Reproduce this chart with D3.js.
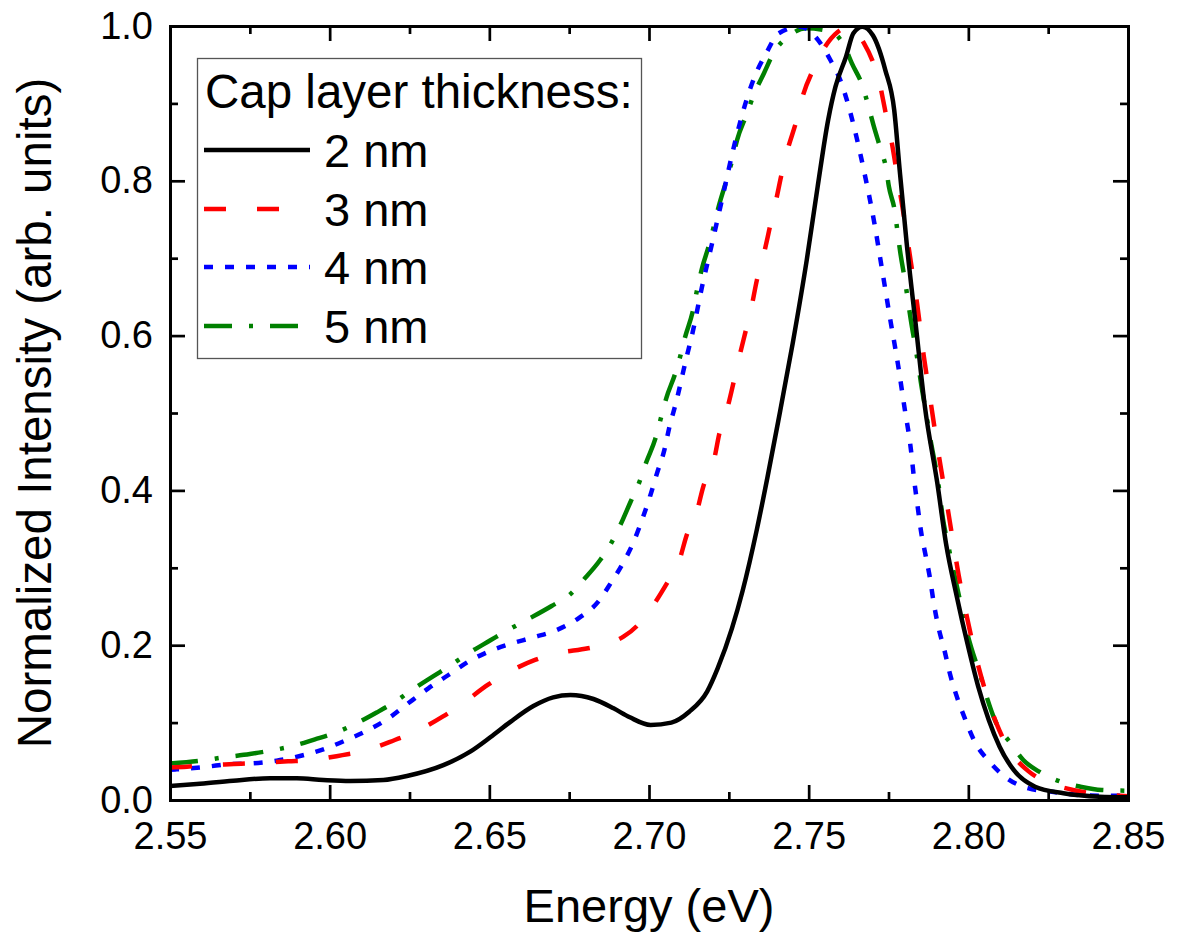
<!DOCTYPE html>
<html>
<head>
<meta charset="utf-8">
<script src="https://cdn.jsdelivr.net/npm/d3@7"></script>
<style>
  body { margin: 0; background: #fff; }
  text { font-family: "Liberation Sans", Arial, sans-serif; fill: #000; }
</style>
</head>
<body>
<script>
// Tick values
const xTicks = [2.55, 2.60, 2.65, 2.70, 2.75, 2.80, 2.85];
const xMinor = [2.575, 2.625, 2.675, 2.725, 2.775, 2.825];
const yTicks = [0.0, 0.2, 0.4, 0.6, 0.8, 1.0];
const yMinor = [0.1, 0.3, 0.5, 0.7, 0.9];

// 2 nm
const energy2 = [2.55, 2.5584, 2.5698, 2.5813, 2.5897, 2.598, 2.6064, 2.6168, 2.6242, 2.6356, 2.644, 2.6503,
  2.6566, 2.6638, 2.67, 2.6754, 2.6826, 2.6889, 2.694, 2.7005, 2.707, 2.7126, 2.7182, 2.7215, 2.726, 2.7293,
  2.7338, 2.7371, 2.7405, 2.745, 2.7494, 2.7528, 2.7561, 2.7584, 2.7617, 2.764, 2.7668, 2.7701, 2.774, 2.7768,
  2.7785, 2.7807, 2.7836, 2.7864, 2.7903, 2.793, 2.7964, 2.7997, 2.8031, 2.8064, 2.8098, 2.8142, 2.8209,
  2.8298, 2.841, 2.85];
const intensity2 = [0.018, 0.0207, 0.025, 0.028, 0.028, 0.0258, 0.0245, 0.0258, 0.031, 0.045, 0.0624, 0.081,
  0.101, 0.1214, 0.1326, 0.1357, 0.1305, 0.1184, 0.1068, 0.097, 0.100, 0.114, 0.140, 0.170, 0.222, 0.270,
  0.350, 0.417, 0.490, 0.590, 0.6977, 0.792, 0.8786, 0.9216, 0.9603, 0.9906, 0.999, 0.988, 0.943, 0.891,
  0.814, 0.719, 0.6115, 0.508, 0.409, 0.3316, 0.2627, 0.2024, 0.1464, 0.1034, 0.0689, 0.0388, 0.0172,
  0.0087, 0.0043, 0.0035];

// 3 nm
const energy3 = [2.55, 2.5553, 2.56, 2.570, 2.575, 2.587, 2.594, 2.604, 2.6104, 2.6204, 2.6267, 2.6355, 2.6414,
  2.6496, 2.6555, 2.6643, 2.6705, 2.6809, 2.6871, 2.692, 2.6965, 2.7003, 2.7059, 2.7092, 2.712, 2.7148, 2.717,
  2.7204, 2.722, 2.7244, 2.7265, 2.7282, 2.7304, 2.7321, 2.7338, 2.736, 2.738, 2.7397, 2.7416, 2.7434, 2.7462,
  2.7479, 2.7518, 2.7551, 2.759, 2.763, 2.7673, 2.770, 2.772, 2.774, 2.776, 2.778, 2.780, 2.782, 2.784, 2.786,
  2.788, 2.790, 2.7936, 2.797, 2.800, 2.803, 2.806, 2.809, 2.8133, 2.8189, 2.8267, 2.8328, 2.840, 2.85];
const intensity3 = [0.042, 0.043, 0.0445, 0.0465, 0.0474, 0.050, 0.0515, 0.058, 0.063, 0.0775, 0.088, 0.108,
  0.124, 0.149, 0.164, 0.181, 0.189, 0.196, 0.202, 0.211, 0.226, 0.2455, 0.282, 0.306, 0.3445, 0.370, 0.405,
  0.440, 0.473, 0.504, 0.540, 0.571, 0.608, 0.637, 0.672, 0.706, 0.743, 0.773, 0.810, 0.840, 0.878,
  0.906, 0.947, 0.973, 0.992, 0.999, 0.978, 0.955, 0.93, 0.89, 0.85, 0.80, 0.75, 0.695, 0.64, 0.575,
  0.52, 0.465, 0.375, 0.29, 0.228, 0.175, 0.132, 0.097, 0.062, 0.037, 0.020, 0.013, 0.008, 0.005];

// 4 nm
const energy4 = [2.55, 2.5521, 2.5615, 2.5688, 2.576, 2.5834, 2.5907, 2.598, 2.6048, 2.6121, 2.6184, 2.6246,
  2.6309, 2.6372, 2.6434, 2.6497, 2.6565, 2.6638, 2.6711, 2.6779, 2.6841, 2.688, 2.692, 2.6952, 2.698, 2.7003,
  2.7025, 2.7048, 2.7064, 2.7084, 2.7118, 2.7136, 2.7166, 2.72, 2.7233, 2.7267, 2.7305, 2.7333, 2.7367, 2.7406,
  2.7473, 2.7529, 2.7568, 2.7601, 2.7624, 2.7643, 2.7676, 2.7705, 2.773, 2.7754, 2.778, 2.7799, 2.7821,
  2.783, 2.7841, 2.7852, 2.7866, 2.788, 2.7891, 2.7906, 2.7925, 2.7942, 2.7964, 2.7989, 2.802, 2.8066,
  2.8121, 2.8189, 2.8262, 2.8335, 2.8413, 2.85];
const intensity4 = [0.039, 0.0396, 0.043, 0.0465, 0.0474, 0.0508, 0.0568, 0.0655, 0.0766, 0.0904, 0.1055, 0.125,
  0.1443, 0.1615, 0.1787, 0.1916, 0.2016, 0.2102, 0.2196, 0.2347, 0.2562, 0.28, 0.307, 0.3337, 0.364, 0.392,
  0.422, 0.452, 0.482, 0.5125, 0.5727, 0.603, 0.663, 0.7235, 0.7838, 0.846, 0.904, 0.9367, 0.9647, 0.9905,
  0.999, 0.982, 0.956, 0.928, 0.898, 0.868, 0.8075, 0.747, 0.685, 0.6245, 0.562, 0.51, 0.45,
  0.415, 0.38, 0.3467, 0.3165, 0.2864, 0.2562, 0.2239, 0.1938, 0.1637, 0.1335, 0.1055, 0.0753, 0.0495,
  0.028, 0.015, 0.0107, 0.0068, 0.0055, 0.0055];

// 5 nm
const energy5 = [2.55, 2.56, 2.5667, 2.575, 2.5813, 2.5876, 2.5954, 2.6012, 2.6074, 2.6147, 2.6205, 2.6257,
  2.6325, 2.6382, 2.6434, 2.6502, 2.656, 2.6617, 2.6695, 2.6754, 2.6794, 2.6847, 2.6879, 2.691, 2.6942, 2.697,
  2.6992, 2.702, 2.7037, 2.7054, 2.7082, 2.7099, 2.7113, 2.7138, 2.7149, 2.7166, 2.7188, 2.7204, 2.7219,
  2.7243, 2.726, 2.7276, 2.7305, 2.7328, 2.736, 2.739, 2.7441, 2.7491, 2.7568, 2.7613, 2.7635, 2.7669,
  2.7686, 2.7703, 2.7726, 2.7743, 2.7751, 2.777, 2.7778, 2.7786, 2.7803, 2.7811, 2.782, 2.7836, 2.7844,
  2.7852, 2.7866, 2.788, 2.7906, 2.792, 2.794, 2.797, 2.7997, 2.8042, 2.806, 2.8083, 2.8133, 2.8172, 2.8222,
  2.8289, 2.8351, 2.8418, 2.85];
const intensity5 = [0.047, 0.051, 0.055, 0.0594, 0.0637, 0.0689, 0.0784, 0.086, 0.097, 0.113, 0.127, 0.142,
  0.1600, 0.1750, 0.1895, 0.2060, 0.2200, 0.2326, 0.2506, 0.266, 0.284, 0.31, 0.330, 0.355, 0.385, 0.411,
  0.437, 0.467, 0.493, 0.519, 0.551, 0.575, 0.598, 0.633, 0.656, 0.687, 0.717, 0.743, 0.768,
  0.801, 0.826, 0.853, 0.885, 0.911, 0.939, 0.965, 0.988, 0.997, 0.993, 0.973, 0.952, 0.922,
  0.898, 0.872, 0.84, 0.815, 0.793, 0.760, 0.735, 0.710, 0.6675, 0.645, 0.620, 0.581, 0.560,
  0.538, 0.504, 0.469, 0.409, 0.365, 0.323, 0.265, 0.215, 0.155, 0.130, 0.1034, 0.0732, 0.0517, 0.0366,
  0.0237, 0.0172, 0.0129, 0.012];

const seriesLabels = ['2 nm', '3 nm', '4 nm', '5 nm'];
const legendTitle = 'Cap layer thickness:';

// Build series list
const series = [
  { label: seriesLabels[0], x: energy2, y: intensity2, color: '#000000', dash: null },
  { label: seriesLabels[1], x: energy3, y: intensity3, color: '#ff0000', dash: '22,31' },
  { label: seriesLabels[2], x: energy4, y: intensity4, color: '#0000ff', dash: '9,12' },
  { label: seriesLabels[3], x: energy5, y: intensity5, color: '#008000', dash: '28,17,4,17' }
];

// Chart dimensions
const W = 1177, H = 940;
const margin = { top: 26, right: 49, bottom: 140, left: 170 };
const width = W - margin.left - margin.right;
const height = H - margin.top - margin.bottom;

const svg = d3.select('body').append('svg')
  .attr('width', W)
  .attr('height', H);

const g = svg.append('g')
  .attr('transform', `translate(${margin.left},${margin.top})`);

// Scales
const x = d3.scaleLinear().domain([2.55, 2.85]).range([0, width]);
const y = d3.scaleLinear().domain([0, 1.0]).range([height, 0]);

// Clip the curves to the plot area
svg.append('defs').append('clipPath').attr('id', 'plot-clip')
  .append('rect').attr('width', width).attr('height', height);

const line = d3.line()
  .x(d => x(d[0]))
  .y(d => y(d[1]))
  .curve(d3.curveMonotoneX);

// Draw in the back-to-front order of the original (green under the rest)
const drawOrder = [3, 2, 1, 0];
g.append('g').attr('clip-path', 'url(#plot-clip)')
  .selectAll('path')
  .data(drawOrder.map(i => series[i]))
  .join('path')
  .attr('fill', 'none')
  .attr('stroke', d => d.color)
  .attr('stroke-width', 4.5)
  .attr('stroke-dasharray', d => d.dash)
  .attr('stroke-linejoin', 'round')
  .attr('d', d => line(d.x.map((v, i) => [v, d.y[i]])));

// Axes: major ticks with labels, minor ticks, all pointing inward
function styleAxis(sel) {
  sel.select('.domain').attr('stroke-width', 3).attr('stroke-linecap', 'square');
  sel.selectAll('.tick line').attr('stroke-width', 2.7);
  sel.selectAll('.tick text').style('font-size', '38px').attr('fill', '#000');
}

g.append('g')
  .attr('transform', `translate(0,${height})`)
  .call(d3.axisBottom(x).tickValues(xTicks).tickFormat(d3.format('.2f')).tickSizeInner(-15).tickSizeOuter(0).tickPadding(22))
  .call(styleAxis);
g.append('g')
  .attr('transform', `translate(0,${height})`)
  .call(d3.axisBottom(x).tickValues(xMinor).tickFormat('').tickSizeInner(-8).tickSizeOuter(0))
  .call(styleAxis);

g.append('g')
  .call(d3.axisTop(x).tickValues(xTicks).tickFormat('').tickSizeInner(-15).tickSizeOuter(0))
  .call(styleAxis);
g.append('g')
  .call(d3.axisTop(x).tickValues(xMinor).tickFormat('').tickSizeInner(-8).tickSizeOuter(0))
  .call(styleAxis);

g.append('g')
  .call(d3.axisLeft(y).tickValues(yTicks).tickFormat(d3.format('.1f')).tickSizeInner(-15).tickSizeOuter(0).tickPadding(17))
  .call(styleAxis);
g.append('g')
  .call(d3.axisLeft(y).tickValues(yMinor).tickFormat('').tickSizeInner(-8).tickSizeOuter(0))
  .call(styleAxis);

g.append('g')
  .attr('transform', `translate(${width},0)`)
  .call(d3.axisRight(y).tickValues(yTicks).tickFormat('').tickSizeInner(-15).tickSizeOuter(0))
  .call(styleAxis);
g.append('g')
  .attr('transform', `translate(${width},0)`)
  .call(d3.axisRight(y).tickValues(yMinor).tickFormat('').tickSizeInner(-8).tickSizeOuter(0))
  .call(styleAxis);

// Axis titles
svg.append('text')
  .attr('x', margin.left + width / 2)
  .attr('y', 922)
  .attr('text-anchor', 'middle')
  .style('font-size', '47px')
  .text('Energy (eV)');

svg.append('text')
  .attr('transform', `translate(51,${margin.top + height / 2}) rotate(-90)`)
  .attr('text-anchor', 'middle')
  .style('font-size', '47.5px')
  .text('Normalized Intensity (arb. units)');

// Legend
const legend = svg.append('g');
legend.append('rect')
  .attr('x', 197.5).attr('y', 58.5)
  .attr('width', 444).attr('height', 300)
  .attr('fill', '#fff')
  .attr('stroke', '#555')
  .attr('stroke-width', 1.3);

legend.append('text')
  .attr('x', 205).attr('y', 108)
  .style('font-size', '47.5px')
  .text(legendTitle);

const rowY = [150, 209, 267, 326];
series.forEach((s, i) => {
  legend.append('line')
    .attr('x1', 204).attr('x2', 310)
    .attr('y1', rowY[i]).attr('y2', rowY[i])
    .attr('stroke', s.color)
    .attr('stroke-width', 4.5)
    .attr('stroke-dasharray', s.dash);
  legend.append('text')
    .attr('x', 324).attr('y', rowY[i] + 16.7)
    .style('font-size', '47px')
    .text(s.label);
});
</script>
</body>
</html>
